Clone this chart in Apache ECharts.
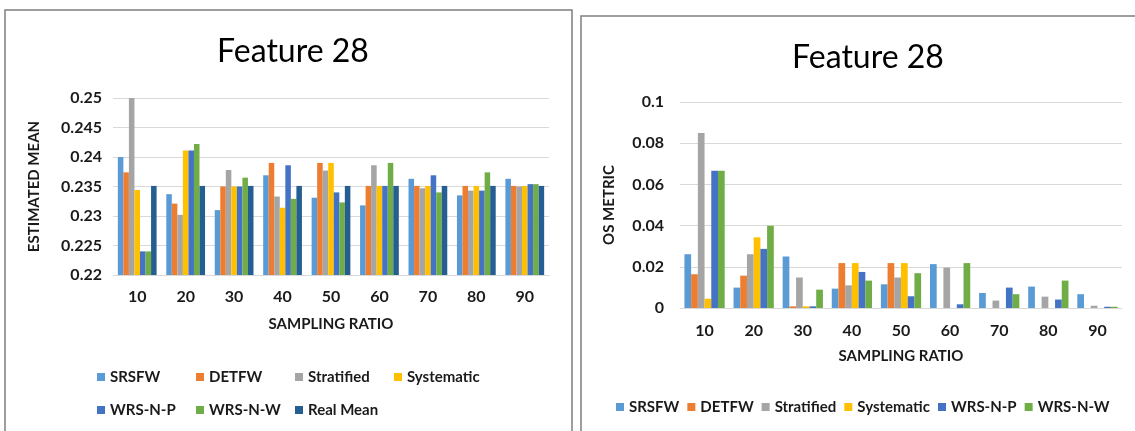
<!DOCTYPE html>
<html>
<head>
<meta charset="utf-8">
<script src="https://cdn.jsdelivr.net/npm/echarts@6/dist/echarts.min.js"></script>
<style>
html,body{margin:0;padding:0;background:#fff;}
#c{width:1135px;height:431px;}
</style>
</head>
<body>
<div id="c"></div>
<script>
// ---- data ----
const categories = ['10', '20', '30', '40', '50', '60', '70', '80', '90'];
const seriesNames = ['SRSFW', 'DETFW', 'Stratified', 'Systematic', 'WRS-N-P', 'WRS-N-W', 'Real Mean'];

// Left chart: estimated mean
const srsfwMean = [0.2400, 0.2337, 0.2310, 0.2369, 0.2331, 0.2318, 0.2363, 0.2335, 0.2363];
const detfwMean = [0.2374, 0.2321, 0.2350, 0.2390, 0.2390, 0.2351, 0.2351, 0.2351, 0.2351];
const stratifiedMean = [0.2500, 0.2302, 0.2378, 0.2333, 0.2377, 0.2386, 0.2347, 0.2343, 0.2350];
const systematicMean = [0.2344, 0.2411, 0.2350, 0.2314, 0.2390, 0.2351, 0.2351, 0.2351, 0.2351];
const wrsnpMean = [0.2240, 0.2411, 0.2350, 0.2386, 0.2340, 0.2351, 0.2369, 0.2343, 0.2354];
const wrsnwMean = [0.2240, 0.2422, 0.2365, 0.2329, 0.2323, 0.2390, 0.2340, 0.2374, 0.2354];
const realMean = [0.2351, 0.2351, 0.2351, 0.2351, 0.2351, 0.2351, 0.2351, 0.2351, 0.2351];

// Right chart: OS metric
const srsfwOS = [0.0261, 0.0099, 0.0250, 0.0094, 0.0115, 0.0213, 0.0073, 0.0104, 0.0067];
const detfwOS = [0.0164, 0.0157, 0.0008, 0.0218, 0.0218, 0, 0, 0, 0];
const stratifiedOS = [0.0849, 0.0261, 0.0148, 0.0110, 0.0148, 0.0196, 0.0036, 0.0055, 0.0011];
const systematicOS = [0.0045, 0.0343, 0.0008, 0.0218, 0.0218, 0, 0, 0, 0];
const wrsnpOS = [0.0666, 0.0287, 0.0008, 0.0175, 0.0057, 0.0018, 0.0099, 0.0041, 0.0006];
const wrsnwOS = [0.0666, 0.0399, 0.0089, 0.0133, 0.0169, 0.0218, 0.0067, 0.0133, 0.0006];

const leftYTicks = { min: 0.22, max: 0.25, interval: 0.005 };
const rightYTicks = { min: 0, max: 0.1, interval: 0.02 };

// ---- styling ----
const colors = ['#5B9BD5', '#ED7D31', '#A5A5A5', '#FFC000', '#4472C4', '#70AD47', '#255E91'];
const FONT = 'Lato';
const TXT = '#1a1a1a';
const GRID = '#D9D9D9';

const leftData = [srsfwMean, detfwMean, stratifiedMean, systematicMean, wrsnpMean, wrsnwMean, realMean];
const rightData = [srsfwOS, detfwOS, stratifiedOS, systematicOS, wrsnpOS, wrsnwOS];

function fmt(v) { return String(parseFloat(v.toFixed(4))); }

function xAxisCfg(gridIndex, margin, nameGap) {
  return {
    type: 'category', gridIndex, data: categories,
    axisTick: { show: false },
    axisLine: { lineStyle: { color: GRID, width: 1 } },
    axisLabel: { color: TXT, fontFamily: FONT, fontWeight: 'bold', fontSize: 16, margin },
    name: 'SAMPLING RATIO', nameLocation: 'middle', nameGap,
    nameTextStyle: { color: TXT, fontFamily: FONT, fontWeight: 'bold', fontSize: 15 }
  };
}
function yAxisCfg(gridIndex, ticks, name, nameGap, margin) {
  return {
    type: 'value', gridIndex, min: ticks.min, max: ticks.max, interval: ticks.interval,
    axisLine: { show: false }, axisTick: { show: false },
    splitLine: { lineStyle: { color: GRID, width: 1 } },
    axisLabel: { color: TXT, fontFamily: FONT, fontWeight: 'bold', fontSize: 16, margin, formatter: fmt },
    name, nameLocation: 'middle', nameGap, nameRotate: 90,
    nameTextStyle: { color: TXT, fontFamily: FONT, fontWeight: 'bold', fontSize: 15 }
  };
}

const series = [];
leftData.forEach((d, i) => {
  series.push({ name: seriesNames[i], type: 'bar', xAxisIndex: 0, yAxisIndex: 0, data: d,
    itemStyle: { color: colors[i] }, barGap: '0%', barCategoryGap: '20%' });
});
rightData.forEach((d, i) => {
  series.push({ name: seriesNames[i], type: 'bar', xAxisIndex: 1, yAxisIndex: 1, data: d,
    itemStyle: { color: colors[i] }, barGap: '0%', barCategoryGap: '18%' });
});

const legendText = { color: TXT, fontFamily: FONT, fontWeight: 'bold', fontSize: 15, lineHeight: 16 };

const option = {
  animation: false,
  color: colors,
  title: [
    { text: 'Feature 28', left: 288, top: 31, textAlign: 'center',
      textStyle: { fontFamily: FONT, fontWeight: 'normal', fontSize: 32, color: '#000' } },
    { text: 'Feature 28', left: 863, top: 37, textAlign: 'center',
      textStyle: { fontFamily: FONT, fontWeight: 'normal', fontSize: 32, color: '#000' } }
  ],
  legend: [
    { data: seriesNames.slice(0, 4), left: 97, top: 369, padding: 0, itemGap: 0,
      itemWidth: 8, itemHeight: 8, icon: 'rect', selectedMode: false,
      textStyle: Object.assign({ width: 86 }, legendText) },
    { data: seriesNames.slice(4, 7), left: 97, top: 402, padding: 0, itemGap: 0,
      itemWidth: 8, itemHeight: 8, icon: 'rect', selectedMode: false,
      textStyle: Object.assign({ width: 86 }, legendText) },
    { data: seriesNames.slice(0, 6), left: 616, top: 399, padding: 0, itemGap: 8,
      itemWidth: 8, itemHeight: 8, icon: 'rect', selectedMode: false,
      textStyle: legendText }
  ],
  grid: [
    { left: 113, top: 98, width: 436, height: 177 },
    { left: 680, top: 102, width: 442, height: 206 }
  ],
  xAxis: [xAxisCfg(0, 14, 42), xAxisCfg(1, 15, 41)],
  yAxis: [yAxisCfg(0, leftYTicks, 'ESTIMATED MEAN', 71, 11),
          yAxisCfg(1, rightYTicks, 'OS METRIC', 63, 16)],
  series,
  graphic: [
    { type: 'rect', shape: { x: 5, y: 10, width: 567, height: 440 },
      style: { fill: 'none', stroke: '#7F7F7F', lineWidth: 1.5 }, silent: true },
    { type: 'rect', shape: { x: 581, y: 16, width: 600, height: 440 },
      style: { fill: 'none', stroke: '#7F7F7F', lineWidth: 1.5 }, silent: true }
  ]
};

const chart = echarts.init(document.getElementById('c'), null, { renderer: 'canvas' });
chart.setOption(option);
</script>
</body>
</html>
